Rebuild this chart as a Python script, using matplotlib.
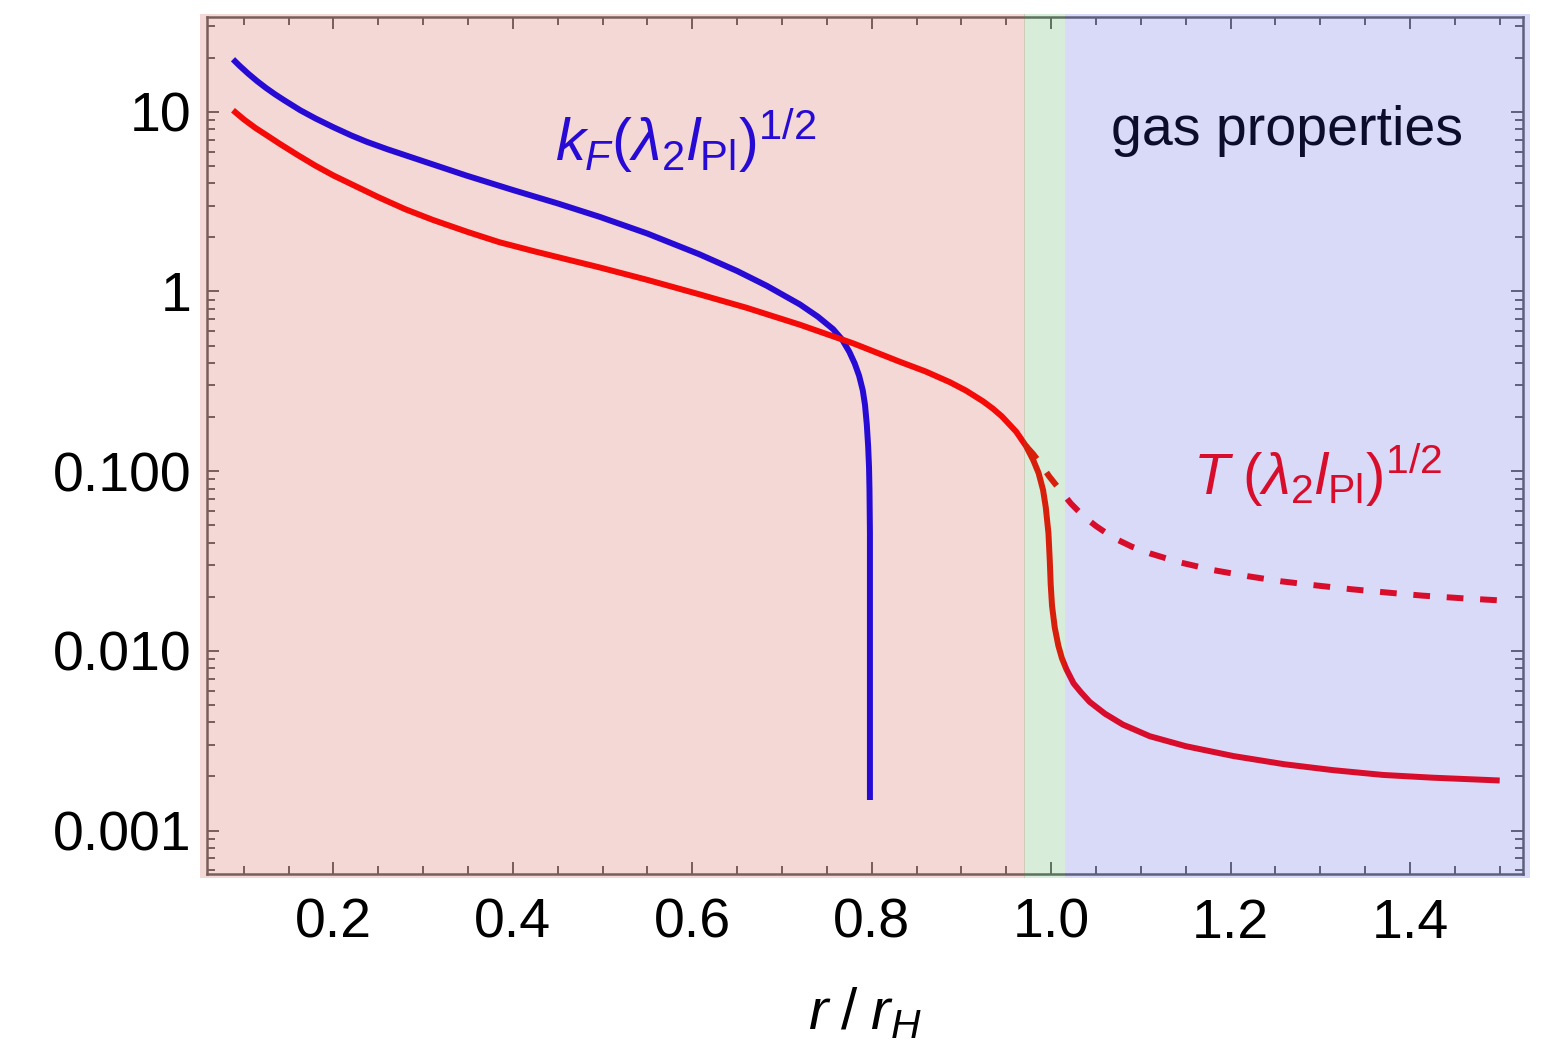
import matplotlib
matplotlib.use('Agg')
import matplotlib.pyplot as plt
from matplotlib.patches import Rectangle
from matplotlib.ticker import FixedLocator, FixedFormatter, MultipleLocator, LogLocator, NullFormatter

plt.rcParams['font.family'] = ['Liberation Sans', 'DejaVu Sans']
plt.rcParams['mathtext.fontset'] = 'custom'
plt.rcParams['mathtext.rm'] = 'Liberation Sans'
plt.rcParams['mathtext.it'] = 'Liberation Sans:italic'
plt.rcParams['mathtext.bf'] = 'Liberation Sans:bold'

# k_F (lambda_2 l_Pl)^(1/2) vs r/r_H
kf_r = [0.088, 0.095, 0.105, 0.115, 0.125, 0.135, 0.145, 0.163, 0.18, 0.2, 0.22, 0.237,
        0.26, 0.3, 0.348, 0.4, 0.45, 0.497, 0.55, 0.608, 0.65, 0.683, 0.72, 0.74,
        0.757, 0.767, 0.775, 0.781, 0.786, 0.79, 0.7925, 0.7945, 0.796, 0.797,
        0.7975, 0.798, 0.798]
kf_val = [19.6, 18.1, 16.3, 14.8, 13.55, 12.5, 11.6, 10.2, 9.18, 8.20, 7.38, 6.81,
          6.19, 5.31, 4.42, 3.67, 3.09, 2.60, 2.10, 1.61, 1.30, 1.076, 0.847, 0.724,
          0.617, 0.540, 0.462, 0.398, 0.339, 0.282, 0.234, 0.182, 0.138, 0.105,
          0.079, 0.045, 0.00148]

# T (lambda_2 l_Pl)^(1/2) vs r/r_H, full solution
t_r = [0.088, 0.1, 0.113, 0.126, 0.14, 0.16, 0.18, 0.2, 0.25, 0.28, 0.311, 0.35,
       0.385, 0.4226, 0.46, 0.497, 0.55, 0.608, 0.66, 0.72, 0.78, 0.831, 0.86, 0.887,
       0.905, 0.924, 0.935, 0.945, 0.961, 0.972, 0.98, 0.986, 0.991, 0.994, 0.997, 0.9985,
       0.9995, 1.001, 1.004, 1.008, 1.012, 1.017, 1.025, 1.033, 1.043, 1.06,
       1.08, 1.11, 1.15, 1.203, 1.26, 1.314, 1.37, 1.425, 1.5]
t_val = [10.2, 9.08, 8.13, 7.38, 6.64, 5.75, 5.01, 4.42, 3.35, 2.87, 2.50, 2.14,
         1.88, 1.68, 1.51, 1.36, 1.16, 0.964, 0.813, 0.653, 0.513, 0.407, 0.359, 0.313,
         0.281, 0.245, 0.223, 0.202, 0.166, 0.138, 0.1153, 0.0977, 0.0785, 0.063, 0.0451, 0.0316,
         0.0234, 0.0178, 0.0135, 0.0107, 0.0091, 0.0079, 0.0066, 0.0059, 0.0052, 0.00447,
         0.00389, 0.00335, 0.00295, 0.0026, 0.00234, 0.00217, 0.00204, 0.00197, 0.0019]

# gas branch (dashed)
gas_r = [0.972, 0.98, 0.988, 0.998, 1.01, 1.022, 1.036, 1.05, 1.069, 1.09, 1.11,
         1.141, 1.18, 1.22, 1.256, 1.3, 1.336, 1.38, 1.414, 1.46, 1.5]
gas_val = [0.138, 0.1245, 0.1104, 0.0933, 0.0785, 0.0661, 0.0562, 0.0495, 0.0427, 0.0380,
           0.0349, 0.0313, 0.0282, 0.0260, 0.0244, 0.0230, 0.0220, 0.0210, 0.0203, 0.0196, 0.0191]

# shaded regions: (x start, x end) and colour
region_spans = [(0.0513, 0.9711), (0.97, 1.016), (1.0149, 1.5338)]
region_colors = [(200/255, 60/255, 45/255), (55/255, 160/255, 65/255), (60/255, 70/255, 220/255)]

x_ticks = [0.2, 0.4, 0.6, 0.8, 1.0, 1.2, 1.4]
x_tick_labels = ['0.2', '0.4', '0.6', '0.8', '1.0', '1.2', '1.4']
y_ticks = [0.001, 0.01, 0.1, 1, 10]
y_tick_labels = ['0.001', '0.010', '0.100', '1', '10']

fig = plt.figure(figsize=(15.47, 10.4), dpi=100)
ax = fig.add_axes([0.1335, 0.1597, 0.9845 - 0.1335, 0.9839 - 0.1597])

ax.plot(kf_r, kf_val, color=(0, 0, 1), lw=4.3, solid_capstyle='butt', solid_joinstyle='round', zorder=3)
ax.plot(t_r, t_val, color=(1, 0, 0), lw=4.3, solid_capstyle='butt', solid_joinstyle='round', zorder=3)
ax.plot(gas_r, gas_val, color=(1, 0, 0), lw=4.3, linestyle=(0, (2.8, 2.8)), zorder=3)

ax.set_yscale('log')
ax.set_xlim(0.0585, 1.526)
ax.set_ylim(5.74e-4, 33.8)

ax.text(0.447, 5.3, r'$k_F(\lambda_2 l_{\mathrm{Pl}})^{1/2}$', color=(0, 0, 1), fontsize=43, zorder=4)
ax.text(1.158, 0.0745, r'$T\;(\lambda_2 l_{\mathrm{Pl}})^{1/2}$', color=(1, 0, 0), fontsize=42, zorder=4)
ax.text(1.067, 6.53, 'gas properties', color='black', fontsize=40, zorder=4)

ax.xaxis.set_major_locator(FixedLocator(x_ticks))
ax.xaxis.set_major_formatter(FixedFormatter(x_tick_labels))
ax.xaxis.set_minor_locator(MultipleLocator(0.05))
ax.yaxis.set_major_locator(FixedLocator(y_ticks))
ax.yaxis.set_major_formatter(FixedFormatter(y_tick_labels))
ax.yaxis.set_minor_locator(LogLocator(base=10, subs=range(2, 10)))
ax.yaxis.set_minor_formatter(NullFormatter())

ax.tick_params(which='both', direction='in', top=True, right=True, color='#666666',
               width=1.4, labelsize=40, labelcolor='black')
ax.tick_params(which='major', length=8.6)
ax.tick_params(which='minor', length=5.8)
ax.tick_params(axis='x', pad=17)
ax.tick_params(axis='y', pad=11)
for s in ax.spines.values():
    s.set_color('#666666')
    s.set_linewidth(1.8)

ax.set_xlabel(r'$r\;/\;r_H$', fontsize=42, labelpad=26)

# translucent region overlay on top of everything inside the frame
for (x0, x1), c in zip(region_spans, region_colors):
    ax.add_patch(Rectangle((x0, -0.005), x1 - x0, 1.008,
                           transform=ax.get_xaxis_transform(), facecolor=c, edgecolor='none',
                           alpha=0.2, clip_on=False, zorder=10))

fig.savefig('out.png', dpi=100)
